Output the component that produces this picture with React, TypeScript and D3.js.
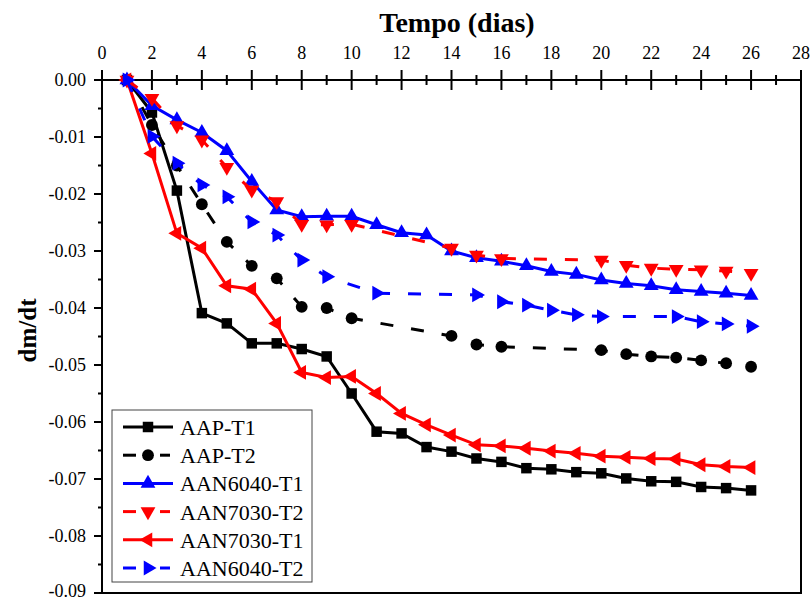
import React from "react";
import * as d3 from "d3";

const W = 811;
const H = 601;

// tick values
const xTicks = [0, 2, 4, 6, 8, 10, 12, 14, 16, 18, 20, 22, 24, 26, 28];
const xMinor = [1, 3, 5, 7, 9, 11, 13, 15, 17, 19, 21, 23, 25, 27];
const yTicks = [0, -0.01, -0.02, -0.03, -0.04, -0.05, -0.06, -0.07, -0.08, -0.09];
const yMinor = [-0.005, -0.015, -0.025, -0.035, -0.045, -0.055, -0.065, -0.075, -0.085];

// days
const daysAll = d3.range(1, 27);
const daysAAPT2 = [1, 2, 3, 4, 5, 6, 7, 8, 9, 10, 14, 15, 16, 20, 21, 22, 23, 24, 25, 26];
const days7030T2 = [1, 2, 3, 4, 5, 6, 7, 8, 9, 10, 14, 15, 16, 20, 21, 22, 23, 24, 25, 26];
const days6040T2 = [1, 2, 3, 4, 5, 6, 7, 8, 9, 11, 15, 16, 17, 18, 19, 20, 23, 24, 25, 26];

// values (dm/dt)
const aapT1 = [0, -0.0057, -0.0194, -0.0409, -0.0427, -0.0462, -0.0462, -0.0472, -0.0485, -0.055, -0.0617, -0.062, -0.0644, -0.0652, -0.0664, -0.067, -0.0681, -0.0683, -0.0688, -0.069, -0.0699, -0.0704, -0.0705, -0.0714, -0.0716, -0.072];
const aapT2 = [0, -0.0079, -0.015, -0.0218, -0.0284, -0.0326, -0.0348, -0.0398, -0.04, -0.0418, -0.0449, -0.0464, -0.0468, -0.0474, -0.0481, -0.0485, -0.0487, -0.0492, -0.0497, -0.0503];
const aan6040T1 = [0, -0.0045, -0.007, -0.0092, -0.0124, -0.0178, -0.0228, -0.024, -0.0239, -0.0239, -0.0254, -0.0268, -0.0272, -0.03, -0.0312, -0.0318, -0.0326, -0.0336, -0.0341, -0.0351, -0.0357, -0.0361, -0.0368, -0.0371, -0.0374, -0.0378];
const aan7030T2 = [0, -0.0032, -0.008, -0.0105, -0.0153, -0.0193, -0.0213, -0.0253, -0.0254, -0.0253, -0.0295, -0.0307, -0.0313, -0.0316, -0.0325, -0.033, -0.0332, -0.0333, -0.0335, -0.0339];
const aan7030T1 = [0, -0.0129, -0.0269, -0.0295, -0.0361, -0.0367, -0.0427, -0.0513, -0.0522, -0.052, -0.055, -0.0585, -0.0605, -0.0623, -0.064, -0.0642, -0.0646, -0.0651, -0.0655, -0.066, -0.0662, -0.0664, -0.0665, -0.0675, -0.0678, -0.068];
const aan6040T2 = [0, -0.0099, -0.0146, -0.0184, -0.0205, -0.0249, -0.0272, -0.0316, -0.0345, -0.0374, -0.0377, -0.0389, -0.0395, -0.0404, -0.0412, -0.0415, -0.0415, -0.0424, -0.0428, -0.0432];

type Series = {
  name: string;
  days: number[];
  values: number[];
  color: string;
  dashed: boolean;
  shape: "square" | "circle" | "up" | "down" | "left" | "right";
};

const series: Series[] = [
  { name: "AAP-T1", days: daysAll, values: aapT1, color: "#000000", dashed: false, shape: "square" },
  { name: "AAP-T2", days: daysAAPT2, values: aapT2, color: "#000000", dashed: true, shape: "circle" },
  { name: "AAN6040-T1", days: daysAll, values: aan6040T1, color: "#0000ff", dashed: false, shape: "up" },
  { name: "AAN7030-T2", days: days7030T2, values: aan7030T2, color: "#ff0000", dashed: true, shape: "down" },
  { name: "AAN7030-T1", days: daysAll, values: aan7030T1, color: "#ff0000", dashed: false, shape: "left" },
  { name: "AAN6040-T2", days: days6040T2, values: aan6040T2, color: "#0000ff", dashed: true, shape: "right" },
];

const left = 102;
const right = 801;
const top = 80;
const bottom = 593;

const x = d3.scaleLinear().domain([0, 28]).range([left, right]);
const y = d3.scaleLinear().domain([0, -0.09]).range([top, bottom]);

const markerPath = (shape: Series["shape"]) => {
  if (shape === "square") return d3.symbol(d3.symbolSquare, 110)()!;
  if (shape === "circle") return d3.symbol(d3.symbolCircle, 110)()!;
  return d3.symbol(d3.symbolTriangle, 95)()!;
};
const markerRot = (shape: Series["shape"]) =>
  shape === "down" ? 180 : shape === "left" ? -90 : shape === "right" ? 90 : 0;

const FONT = "Liberation Serif, DejaVu Serif, Noto Serif, serif";

export default function App() {
  const line = d3.line<[number, number]>().x((d) => x(d[0])).y((d) => y(d[1]));

  return (
    <svg width={W} height={H} style={{ position: "absolute", left: 0, top: 0, background: "#fff" }} fontFamily={FONT}>
      {/* title */}
      <text x={457} y={32} textAnchor="middle" fontSize={28} fontWeight="bold">
        Tempo (dias)
      </text>
      <text transform={`translate(36,${(top + bottom) / 2 - 6}) rotate(-90)`} textAnchor="middle" fontSize={25} fontWeight="bold">
        dm/dt
      </text>

      {/* frame */}
      <rect x={left} y={top} width={right - left} height={bottom - top} fill="none" stroke="#000" strokeWidth={2} />

      {/* top axis ticks */}
      {xTicks.map((t) => (
        <g key={"xt" + t}>
          <line x1={x(t)} x2={x(t)} y1={top - 10} y2={top + 10} stroke="#000" strokeWidth={2} />
          <text x={x(t)} y={59} textAnchor="middle" fontSize={18}>
            {t}
          </text>
        </g>
      ))}
      {xMinor.map((t) => (
        <line key={"xm" + t} x1={x(t)} x2={x(t)} y1={top - 5} y2={top + 5} stroke="#000" strokeWidth={2} />
      ))}

      {/* left axis ticks */}
      {yTicks.map((t) => (
        <g key={"yt" + t}>
          <line x1={left - 8} x2={left} y1={y(t)} y2={y(t)} stroke="#000" strokeWidth={2} />
          <text x={left - 16} y={Math.min(y(t) + 6, 597)} textAnchor="end" fontSize={18}>
            {d3.format(".2f")(t).replace("−", "-")}
          </text>
        </g>
      ))}
      {yMinor.map((t) => (
        <line key={"ym" + t} x1={left - 4} x2={left} y1={y(t)} y2={y(t)} stroke="#000" strokeWidth={2} />
      ))}

      {/* series */}
      {series.map((s) => {
        const pts = s.days.map((d, i) => [d, s.values[i]] as [number, number]);
        return (
          <g key={s.name}>
            <path d={line(pts)!} fill="none" stroke={s.color} strokeWidth={3} strokeDasharray={s.dashed ? "13 18" : undefined} />
            {pts.map((p, i) => (
              <path
                key={i}
                d={markerPath(s.shape)}
                transform={`translate(${x(p[0])},${y(p[1])}) rotate(${markerRot(s.shape)})`}
                fill={s.color}
              />
            ))}
          </g>
        );
      })}

      {/* legend */}
      <g>
        <rect x={112} y={410} width={200} height={172} fill="#fff" stroke="#444" strokeWidth={1} />
        {series.map((s, i) => {
          const ly = 427 + i * 28.2;
          return (
            <g key={"lg" + s.name}>
              {s.dashed ? (
                <>
                  <line x1={123} x2={136} y1={ly} y2={ly} stroke={s.color} strokeWidth={3} />
                  <line x1={160} x2={170} y1={ly} y2={ly} stroke={s.color} strokeWidth={3} />
                </>
              ) : (
                <line x1={123} x2={173} y1={ly} y2={ly} stroke={s.color} strokeWidth={3} />
              )}
              <path d={markerPath(s.shape)} transform={`translate(148,${ly}) rotate(${markerRot(s.shape)})`} fill={s.color} />
              <text x={180} y={ly + 8} fontSize={22}>
                {s.name}
              </text>
            </g>
          );
        })}
      </g>
    </svg>
  );
}
